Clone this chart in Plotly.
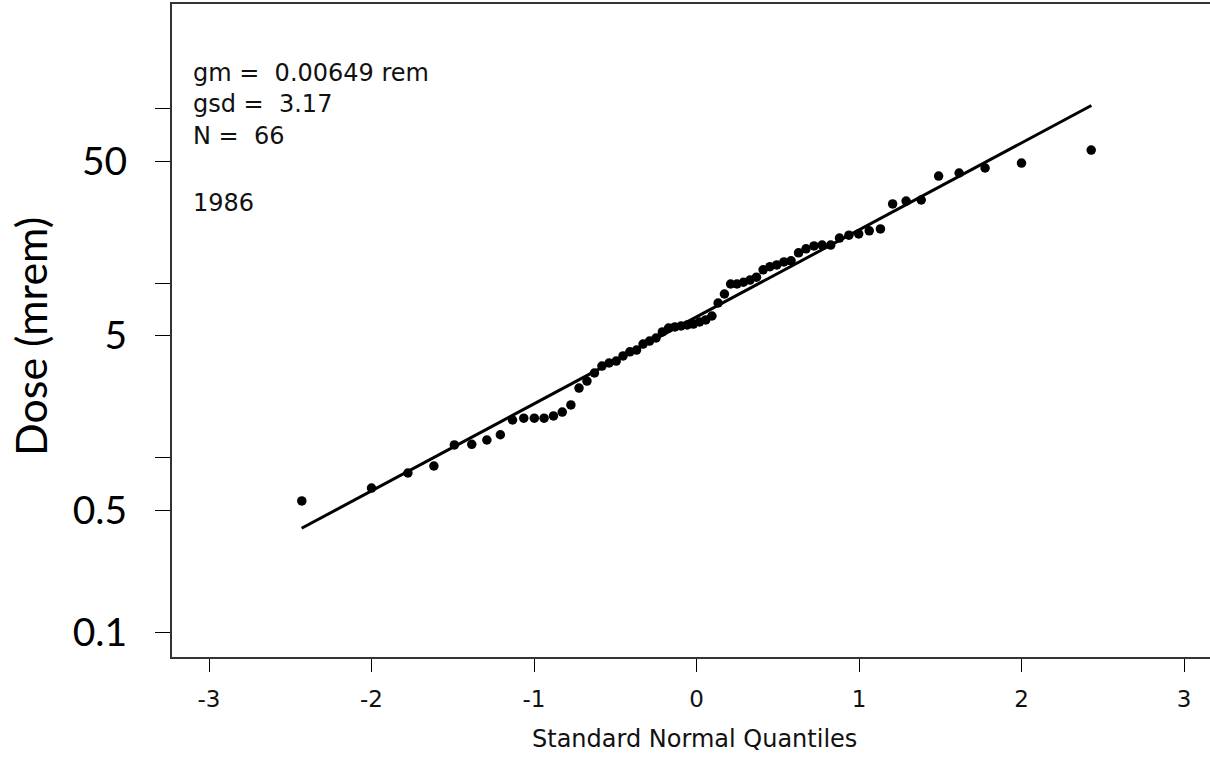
import plotly.graph_objects as go

# ---- data ----
x_quantiles = [-2.429, -2.000, -1.776, -1.616, -1.490, -1.383, -1.290, -1.207, -1.132, -1.063,
               -0.998, -0.938, -0.880, -0.826, -0.773, -0.723, -0.674, -0.628, -0.582, -0.538,
               -0.494, -0.452, -0.410, -0.369, -0.329, -0.289, -0.249, -0.210, -0.172, -0.133,
               -0.095, -0.057, -0.019, 0.019, 0.057, 0.095, 0.133, 0.172, 0.210, 0.249,
               0.289, 0.329, 0.369, 0.410, 0.452, 0.494, 0.538, 0.582, 0.628, 0.674,
               0.723, 0.773, 0.826, 0.880, 0.938, 0.998, 1.063, 1.132, 1.207, 1.290,
               1.383, 1.490, 1.616, 1.776, 2.000, 2.429]
dose_mrem = [0.564, 0.668, 0.815, 0.894, 1.18, 1.19, 1.26, 1.35, 1.64, 1.68,
             1.68, 1.68, 1.73, 1.82, 2.00, 2.50, 2.74, 3.05, 3.34, 3.48,
             3.57, 3.82, 4.03, 4.13, 4.47, 4.65, 4.84, 5.24, 5.52, 5.60,
             5.67, 5.75, 5.82, 5.98, 6.14, 6.47, 7.68, 8.65, 9.87, 9.87,
             10.1, 10.4, 10.8, 11.9, 12.4, 12.7, 13.2, 13.4, 14.9, 15.7,
             16.3, 16.5, 16.5, 18.1, 18.8, 19.1, 19.9, 20.4, 28.4, 29.5,
             29.9, 41.0, 42.7, 45.6, 48.7, 57.8]
fit_x = [-2.43, 2.43]
fit_y = [0.393, 104.0]

x_tickvals = [-3, -2, -1, 0, 1, 2, 3]
x_ticktext = ["-3", "-2", "-1", "0", "1", "2", "3"]
y_tickvals = [0.1, 0.5, 1, 5, 10, 50, 100]
y_ticktext = ["0.1", "0.5", "", "5", "", "50", ""]

stats_lines = ["gm =\u00a0 0.00649 rem", "gsd =\u00a0 3.17", "N =\u00a0 66"]
year_label = "1986"
x_title = "Standard Normal Quantiles"
y_title = "Dose (mrem)"

# ---- layout geometry (pixels) ----
W, H = 1210, 764
L, R, T, B = 172, 0, 4, 107
plot_h = H - T - B
plot_w = W - L - R

def py(p):
    return (H - B - p) / plot_h

def px(p):
    return (p - L) / plot_w

fig = go.Figure()
fig.add_trace(go.Scatter(x=fit_x, y=fit_y, mode="lines",
                         line=dict(color="black", width=3), showlegend=False,
                         hoverinfo="skip"))
fig.add_trace(go.Scatter(x=x_quantiles, y=dose_mrem, mode="markers",
                         marker=dict(color="black", size=9.5), showlegend=False))

txt_font = dict(family="DejaVu Sans", size=24, color="#111")
annots = []
for txt, ypix in zip(stats_lines, [73, 104, 136]):
    annots.append(dict(text=txt, xref="paper", yref="paper", x=px(191), y=py(ypix),
                       xanchor="left", yanchor="middle", showarrow=False, font=txt_font))
annots.append(dict(text=year_label, xref="paper", yref="paper", x=px(191), y=py(203),
                   xanchor="left", yanchor="middle", showarrow=False, font=txt_font))
annots.append(dict(text=x_title, xref="paper", yref="paper", x=px(694), y=py(739),
                   xanchor="center", yanchor="middle", showarrow=False,
                   font=dict(family="DejaVu Sans", size=24, color="#111")))
annots.append(dict(text=y_title, xref="paper", yref="paper", x=px(30), y=py(337),
                   xanchor="center", yanchor="middle", showarrow=False, textangle=-90,
                   font=dict(family="Lato", size=43, color="black")))

fig.update_layout(
    width=W, height=H,
    margin=dict(l=L, r=R, t=T, b=B, pad=0),
    paper_bgcolor="white", plot_bgcolor="white",
    annotations=annots,
    xaxis=dict(range=[-3 - 37 / 162.5, 3 + 26 / 162.5], tickvals=x_tickvals, ticktext=x_ticktext,
               showgrid=False, zeroline=False, showline=True, linecolor="#333", linewidth=2,
               mirror=True, ticks="outside", ticklen=13, tickwidth=1.3, tickcolor="black",
               ticklabelstandoff=7,
               tickfont=dict(family="DejaVu Sans", size=23, color="#111")),
    yaxis=dict(type="log", range=[-1 - 25 / 174.5, -1 + 628 / 174.5],
               tickvals=y_tickvals, ticktext=y_ticktext,
               showgrid=False, zeroline=False, showline=True, linecolor="#333", linewidth=2,
               mirror=False, ticks="outside", ticklen=15, tickwidth=1.3, tickcolor="black",
               ticklabelstandoff=20,
               tickfont=dict(family="Lato", size=39, color="black")),
)

fig.write_html("out.html")
